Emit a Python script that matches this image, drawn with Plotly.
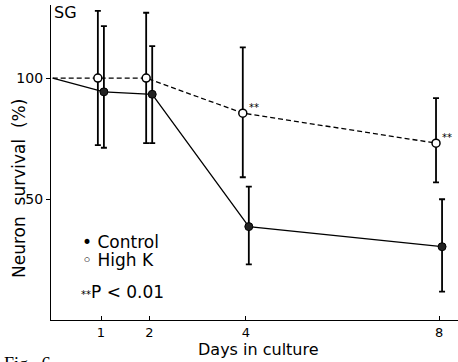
import plotly.graph_objects as go

# ---- data ----
days = [1, 2, 4, 8]
start_day = 0
start_value = 100

control_mean = [94.3, 93.3, 38.6, 30.3]
control_err_plus = [27.2, 19.9, 16.5, 19.6]
control_err_minus = [23.1, 20.2, 15.6, 18.6]

highk_mean = [100, 100, 85.5, 73.1]
highk_err_plus = [27.8, 27.0, 27.2, 18.6]
highk_err_minus = [27.7, 26.9, 26.5, 16.2]

signif_days = [4, 8]
signif_values = [85.5, 73.1]

x_tick_vals = [1, 2, 4, 8]
x_tick_text = ["1", "2", "4", "8"]
y_tick_vals = [50, 100]
y_tick_text = ["50", "100"]

# ---- layout helpers ----
W, H = 458, 362
L, R, T, B = 51, 0, 5, 42
PW, PH = W - L - R, H - T - B

def px(x):
    return (x - L) / PW

def py(y):
    return (H - B - y) / PH

OFF_OPEN = -0.065
OFF_FILL = 0.06

font_main = "DejaVu Sans, Noto Sans, sans-serif"

fig = go.Figure()

# connecting lines (start at day 0, 100%)
fig.add_trace(go.Scatter(
    x=[start_day] + [d + OFF_OPEN for d in days],
    y=[start_value] + highk_mean,
    mode="lines", line=dict(color="black", width=1.3, dash="5px,3px"),
    hoverinfo="skip", showlegend=False))
fig.add_trace(go.Scatter(
    x=[start_day] + [d + OFF_FILL for d in days],
    y=[start_value] + control_mean,
    mode="lines", line=dict(color="black", width=1.3),
    hoverinfo="skip", showlegend=False))

# High K markers with error bars
fig.add_trace(go.Scatter(
    x=[d + OFF_OPEN for d in days], y=highk_mean, mode="markers",
    marker=dict(symbol="circle", size=8, color="white",
                line=dict(color="black", width=1.5)),
    error_y=dict(type="data", symmetric=False, array=highk_err_plus,
                 arrayminus=highk_err_minus, color="black",
                 thickness=1.8, width=3),
    showlegend=False))

# Control markers with error bars
fig.add_trace(go.Scatter(
    x=[d + OFF_FILL for d in days], y=control_mean, mode="markers",
    marker=dict(symbol="circle", size=8, color="#222",
                line=dict(color="black", width=1)),
    error_y=dict(type="data", symmetric=False, array=control_err_plus,
                 arrayminus=control_err_minus, color="black",
                 thickness=1.8, width=3),
    showlegend=False))

annotations = []
# significance stars
for d, v in zip(signif_days, signif_values):
    annotations.append(dict(x=d, y=v, xref="x", yref="y", text="**",
                            showarrow=False, xanchor="left", yanchor="bottom",
                            xshift=1, yshift=-2,
                            font=dict(size=10, color="black", family=font_main)))

annotations += [
    dict(x=px(52), y=py(12), xref="paper", yref="paper", text="SG",
         showarrow=False, xanchor="left", yanchor="middle",
         font=dict(size=16, color="black", family=font_main)),
    dict(x=px(80), y=py(242), xref="paper", yref="paper", text="• Control",
         showarrow=False, xanchor="left", yanchor="middle",
         font=dict(size=17, color="black", family=font_main)),
    dict(x=px(80), y=py(260), xref="paper", yref="paper", text="◦ High K",
         showarrow=False, xanchor="left", yanchor="middle",
         font=dict(size=17, color="black", family=font_main)),
    dict(x=px(79), y=py(292), xref="paper", yref="paper",
         text="<span style='font-size:10px'>**</span>P &lt; 0.01",
         showarrow=False, xanchor="left", yanchor="middle",
         font=dict(size=17, color="black", family=font_main)),
    dict(x=px(258), y=py(349), xref="paper", yref="paper",
         text="Days in culture",
         showarrow=False, xanchor="center", yanchor="middle",
         font=dict(size=16, color="black", family=font_main)),
    dict(x=px(19), y=py(189), xref="paper", yref="paper",
         text="Neuron  survival  (%)", textangle=-90,
         showarrow=False, xanchor="center", yanchor="middle",
         font=dict(size=17, color="black", family=font_main)),
    dict(x=px(2), y=py(352), xref="paper", yref="paper", text="Fig.  6",
         showarrow=False, xanchor="left", yanchor="top",
         font=dict(size=18, color="black", family="Liberation Serif, serif")),
]

fig.update_layout(
    width=W, height=H,
    margin=dict(l=L, r=R, t=T, b=B, autoexpand=False),
    paper_bgcolor="white", plot_bgcolor="white",
    annotations=annotations,
    xaxis=dict(range=[-0.035, 8.39], showgrid=False, zeroline=False,
               showline=True, linecolor="black", linewidth=1.3,
               ticks="inside", ticklen=4, tickcolor="black",
               tickvals=x_tick_vals, ticktext=x_tick_text, automargin=False,
               tickfont=dict(size=13, color="black", family=font_main)),
    yaxis=dict(range=[0, 130.2], showgrid=False, zeroline=False,
               showline=True, linecolor="black", linewidth=1.3,
               ticks="outside", ticklen=4, tickcolor="black",
               tickvals=y_tick_vals, ticktext=y_tick_text, automargin=False,
               tickfont=dict(size=14, color="black", family=font_main)),
)

fig.write_html("out.html", config={"displayModeBar": False},
               post_script="document.body.style.margin='0';document.body.style.overflow='hidden';")
